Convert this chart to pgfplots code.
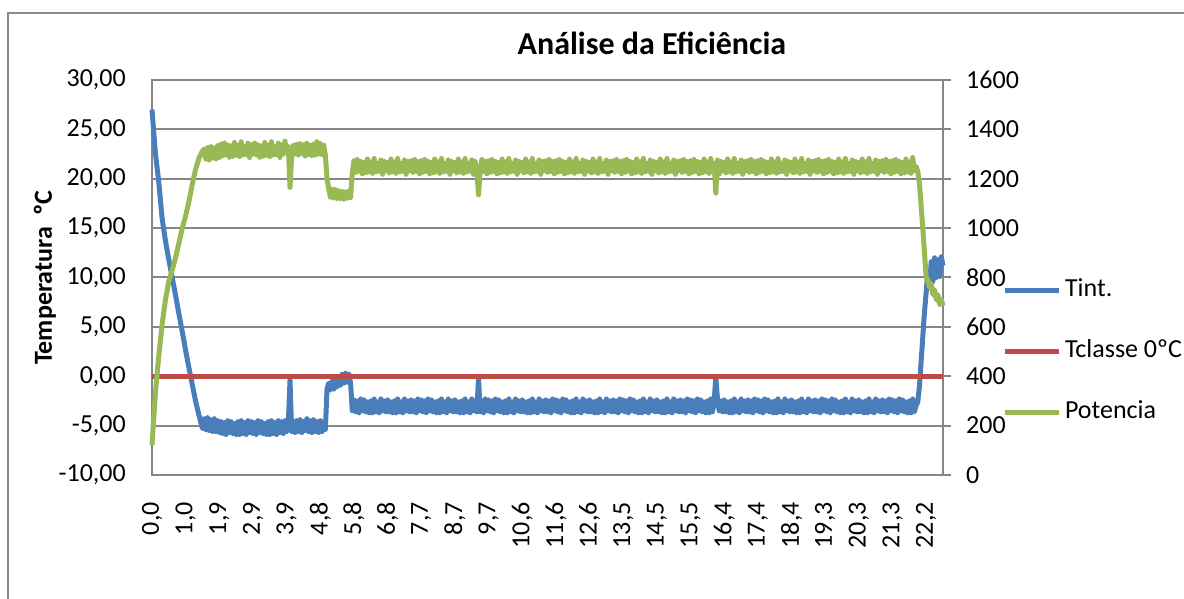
\documentclass[border=0pt]{standalone}
\usepackage{fontspec}
\setmainfont{Carlito}
\usepackage{pgfplots}
\usepackage{pgfplotstable}
\pgfplotsset{compat=1.18}
\definecolor{tblue}{HTML}{4A7EBB}
\definecolor{tred}{HTML}{BE4B48}
\definecolor{tgreen}{HTML}{98B954}
\definecolor{gridgray}{HTML}{868686}
\definecolor{framegray}{HTML}{8A8A8A}

\pgfplotstableread{
x T P
0.0 27.0 121
0.1 22.6 330
0.2 19.7 480
0.3 16.0 610
0.4 13.7 710
0.5 11.8 785
0.6 10.0 830
0.7 8.2 880
0.8 6.3 940
0.9 4.5 1000
1.0 2.6 1050
1.1 0.8 1110
1.2 -0.9 1180
1.3 -2.6 1240
1.4 -4.0 1285
1.5 -5.3 1312
1.55 -4.3 1320
1.60 -5.4 1280
1.65 -4.2 1326
1.70 -5.5 1276
1.75 -4.4 1330
1.80 -5.6 1284
1.85 -4.3 1324
1.90 -5.6 1280
1.95 -4.5 1334
2.00 -5.7 1286
2.05 -4.6 1340
2.10 -5.8 1293
2.15 -4.7 1345
2.20 -5.9 1297
2.25 -4.5 1337
2.30 -5.7 1287
2.35 -4.6 1333
2.40 -5.8 1291
2.45 -4.8 1347
2.50 -5.9 1295
2.55 -4.6 1336
2.60 -5.9 1290
2.65 -4.5 1350
2.70 -5.8 1296
2.75 -4.7 1330
2.80 -5.9 1298
2.85 -4.5 1344
2.90 -5.7 1286
2.95 -4.6 1338
3.00 -5.8 1300
3.05 -4.7 1345
3.10 -5.9 1297
3.15 -4.5 1337
3.20 -5.7 1287
3.25 -4.6 1333
3.30 -5.8 1291
3.35 -4.8 1347
3.40 -5.9 1295
3.45 -4.6 1336
3.50 -5.9 1290
3.55 -4.5 1350
3.60 -5.8 1296
3.65 -4.7 1330
3.70 -5.9 1298
3.75 -4.5 1344
3.80 -5.7 1286
3.85 -4.6 1338
3.90 -5.8 1300
3.95 -4.5 1352
4.00 -5.6 1305
4.05 -4.7 1330
4.10 -0.4 1165
4.15 -5.6 1298
4.20 -4.6 1335
4.25 -5.7 1300
4.30 -4.5 1340
4.35 -5.6 1296
4.40 -4.4 1342
4.45 -5.7 1302
4.50 -4.6 1338
4.55 -5.5 1292
4.60 -4.3 1344
4.65 -5.6 1298
4.70 -4.5 1336
4.75 -5.7 1294
4.80 -4.4 1340
4.85 -5.6 1296
4.90 -4.6 1350
4.95 -5.7 1300
5.00 -4.5 1342
5.05 -5.6 1298
5.10 -4.6 1336
5.15 -5.4 1296
5.20 -1.3 1200
5.25 -0.7 1160
5.30 -1.4 1125
5.35 -0.5 1158
5.40 -1.3 1122
5.45 -0.4 1156
5.50 -1.1 1120
5.55 -0.1 1152
5.60 -0.9 1118
5.65 0.2 1150
5.70 -0.7 1116
5.75 0.3 1148
5.80 -0.6 1120
5.85 0.2 1152
5.90 -0.7 1124
5.95 -3.5 1225
6.00 -2.4 1273
6.05 -3.6 1226
6.10 -2.5 1278
6.15 -3.7 1230
6.20 -2.3 1270
6.25 -3.5 1220
6.30 -2.4 1266
6.35 -3.6 1224
6.40 -2.6 1280
6.45 -3.7 1228
6.50 -2.5 1268
6.55 -3.7 1222
6.60 -2.3 1282
6.65 -3.6 1228
6.70 -2.6 1262
6.75 -3.7 1230
6.80 -2.3 1276
6.85 -3.5 1218
6.90 -2.5 1270
6.95 -3.6 1232
7.00 -2.4 1266
7.05 -3.6 1224
7.10 -2.6 1280
7.15 -3.7 1228
7.20 -2.5 1268
7.25 -3.7 1222
7.30 -2.3 1282
7.35 -3.6 1228
7.40 -2.6 1262
7.45 -3.7 1230
7.50 -2.3 1276
7.55 -3.5 1218
7.60 -2.5 1270
7.65 -3.6 1232
7.70 -2.4 1273
7.75 -3.6 1226
7.80 -2.5 1278
7.85 -3.7 1230
7.90 -2.3 1270
7.95 -3.5 1220
8.00 -2.4 1273
8.05 -3.6 1226
8.10 -2.5 1278
8.15 -3.7 1230
8.20 -2.3 1270
8.25 -3.5 1220
8.30 -2.4 1266
8.35 -3.6 1224
8.40 -2.6 1280
8.45 -3.7 1228
8.50 -2.5 1268
8.55 -3.7 1222
8.60 -2.3 1282
8.65 -3.6 1228
8.70 -2.6 1262
8.75 -3.7 1230
8.80 -2.3 1276
8.85 -3.5 1218
8.90 -2.5 1270
8.95 -3.6 1232
9.00 -2.4 1266
9.05 -3.6 1224
9.10 -2.6 1280
9.15 -3.7 1228
9.20 -2.5 1268
9.25 -3.7 1222
9.30 -2.3 1282
9.35 -3.6 1228
9.40 -2.6 1262
9.45 -3.7 1230
9.50 -2.3 1276
9.55 -3.5 1218
9.60 -2.5 1270
9.65 -3.6 1232
9.70 -0.2 1135
9.75 -3.6 1226
9.80 -2.5 1278
9.85 -3.7 1230
9.90 -2.3 1270
9.95 -3.5 1220
10.00 -2.4 1273
10.05 -3.6 1226
10.10 -2.5 1278
10.15 -3.7 1230
10.20 -2.3 1270
10.25 -3.5 1220
10.30 -2.4 1266
10.35 -3.6 1224
10.40 -2.6 1280
10.45 -3.7 1228
10.50 -2.5 1268
10.55 -3.7 1222
10.60 -2.3 1282
10.65 -3.6 1228
10.70 -2.6 1262
10.75 -3.7 1230
10.80 -2.3 1276
10.85 -3.5 1218
10.90 -2.5 1270
10.95 -3.6 1232
11.00 -2.4 1266
11.05 -3.6 1224
11.10 -2.6 1280
11.15 -3.7 1228
11.20 -2.5 1268
11.25 -3.7 1222
11.30 -2.3 1282
11.35 -3.6 1228
11.40 -2.6 1262
11.45 -3.7 1230
11.50 -2.3 1276
11.55 -3.5 1218
11.60 -2.5 1270
11.65 -3.6 1232
11.70 -2.4 1273
11.75 -3.6 1226
11.80 -2.5 1278
11.85 -3.7 1230
11.90 -2.3 1270
11.95 -3.5 1220
12.00 -2.4 1273
12.05 -3.6 1226
12.10 -2.5 1278
12.15 -3.7 1230
12.20 -2.3 1270
12.25 -3.5 1220
12.30 -2.4 1266
12.35 -3.6 1224
12.40 -2.6 1280
12.45 -3.7 1228
12.50 -2.5 1268
12.55 -3.7 1222
12.60 -2.3 1282
12.65 -3.6 1228
12.70 -2.6 1262
12.75 -3.7 1230
12.80 -2.3 1276
12.85 -3.5 1218
12.90 -2.5 1270
12.95 -3.6 1232
13.00 -2.4 1266
13.05 -3.6 1224
13.10 -2.6 1280
13.15 -3.7 1228
13.20 -2.5 1268
13.25 -3.7 1222
13.30 -2.3 1282
13.35 -3.6 1228
13.40 -2.6 1262
13.45 -3.7 1230
13.50 -2.3 1276
13.55 -3.5 1218
13.60 -2.5 1270
13.65 -3.6 1232
13.70 -2.4 1273
13.75 -3.6 1226
13.80 -2.5 1278
13.85 -3.7 1230
13.90 -2.3 1270
13.95 -3.5 1220
14.00 -2.4 1273
14.05 -3.6 1226
14.10 -2.5 1278
14.15 -3.7 1230
14.20 -2.3 1270
14.25 -3.5 1220
14.30 -2.4 1266
14.35 -3.6 1224
14.40 -2.6 1280
14.45 -3.7 1228
14.50 -2.5 1268
14.55 -3.7 1222
14.60 -2.3 1282
14.65 -3.6 1228
14.70 -2.6 1262
14.75 -3.7 1230
14.80 -2.3 1276
14.85 -3.5 1218
14.90 -2.5 1270
14.95 -3.6 1232
15.00 -2.4 1266
15.05 -3.6 1224
15.10 -2.6 1280
15.15 -3.7 1228
15.20 -2.5 1268
15.25 -3.7 1222
15.30 -2.3 1282
15.35 -3.6 1228
15.40 -2.6 1262
15.45 -3.7 1230
15.50 -2.3 1276
15.55 -3.5 1218
15.60 -2.5 1270
15.65 -3.6 1232
15.70 -2.4 1273
15.75 -3.6 1226
15.80 -2.5 1278
15.85 -3.7 1230
15.90 -2.3 1270
15.95 -3.5 1220
16.00 -2.4 1273
16.05 -3.6 1226
16.10 -2.5 1278
16.15 -3.7 1230
16.20 -2.3 1270
16.25 -3.5 1220
16.30 -2.4 1266
16.35 -3.6 1224
16.40 -2.6 1280
16.45 -3.7 1228
16.50 -2.5 1268
16.55 -3.7 1222
16.60 -2.3 1282
16.65 -3.6 1228
16.70 -2.6 1262
16.75 -0.1 1142
16.80 -2.3 1276
16.85 -3.5 1218
16.90 -2.5 1270
16.95 -3.6 1232
17.00 -2.4 1266
17.05 -3.6 1224
17.10 -2.6 1280
17.15 -3.7 1228
17.20 -2.5 1268
17.25 -3.7 1222
17.30 -2.3 1282
17.35 -3.6 1228
17.40 -2.6 1262
17.45 -3.7 1230
17.50 -2.3 1276
17.55 -3.5 1218
17.60 -2.5 1270
17.65 -3.6 1232
17.70 -2.4 1273
17.75 -3.6 1226
17.80 -2.5 1278
17.85 -3.7 1230
17.90 -2.3 1270
17.95 -3.5 1220
18.00 -2.4 1273
18.05 -3.6 1226
18.10 -2.5 1278
18.15 -3.7 1230
18.20 -2.3 1270
18.25 -3.5 1220
18.30 -2.4 1266
18.35 -3.6 1224
18.40 -2.6 1280
18.45 -3.7 1228
18.50 -2.5 1268
18.55 -3.7 1222
18.60 -2.3 1282
18.65 -3.6 1228
18.70 -2.6 1262
18.75 -3.7 1230
18.80 -2.3 1276
18.85 -3.5 1218
18.90 -2.5 1270
18.95 -3.6 1232
19.00 -2.4 1266
19.05 -3.6 1224
19.10 -2.6 1280
19.15 -3.7 1228
19.20 -2.5 1268
19.25 -3.7 1222
19.30 -2.3 1282
19.35 -3.6 1228
19.40 -2.6 1262
19.45 -3.7 1230
19.50 -2.3 1276
19.55 -3.5 1218
19.60 -2.5 1270
19.65 -3.6 1232
19.70 -2.4 1273
19.75 -3.6 1226
19.80 -2.5 1278
19.85 -3.7 1230
19.90 -2.3 1270
19.95 -3.5 1220
20.00 -2.4 1273
20.05 -3.6 1226
20.10 -2.5 1278
20.15 -3.7 1230
20.20 -2.3 1270
20.25 -3.5 1220
20.30 -2.4 1266
20.35 -3.6 1224
20.40 -2.6 1280
20.45 -3.7 1228
20.50 -2.5 1268
20.55 -3.7 1222
20.60 -2.3 1282
20.65 -3.6 1228
20.70 -2.6 1262
20.75 -3.7 1230
20.80 -2.3 1276
20.85 -3.5 1218
20.90 -2.5 1270
20.95 -3.6 1232
21.00 -2.4 1266
21.05 -3.6 1224
21.10 -2.6 1280
21.15 -3.7 1228
21.20 -2.5 1268
21.25 -3.7 1222
21.30 -2.3 1282
21.35 -3.6 1228
21.40 -2.6 1262
21.45 -3.7 1230
21.50 -2.3 1276
21.55 -3.5 1218
21.60 -2.5 1270
21.65 -3.6 1232
21.70 -2.4 1273
21.75 -3.6 1226
21.80 -2.5 1278
21.85 -3.7 1230
21.90 -2.3 1270
21.95 -3.5 1220
22.00 -2.4 1273
22.05 -3.6 1226
22.10 -2.5 1278
22.15 -3.7 1230
22.20 -2.3 1270
22.25 -3.5 1220
22.30 -2.4 1266
22.35 -3.6 1224
22.40 -2.6 1280
22.45 -3.7 1228
22.50 -2.5 1268
22.55 -3.7 1222
22.60 -2.3 1286
22.65 -3.6 1232
22.70 -3.0 1250
22.75 -2.6 1230
22.80 -1.0 1180
22.85 1.5 1090
22.90 4.0 1000
22.95 6.5 900
23.00 8.5 800
23.05 10.6 790
23.10 9.3 760
23.15 11.6 775
23.20 9.6 730
23.25 12.0 750
23.30 10.0 710
23.35 11.8 730
23.40 10.1 690
23.45 12.1 710
23.50 11.2 685
}\data

\begin{document}
\begin{tikzpicture}
\useasboundingbox (0pt,0pt) rectangle (1184pt,599pt);
\draw[color=framegray, line width=2pt] (8pt,-20pt) -- (8pt,586pt) -- (1200pt,586pt);
\begin{axis}[
  at={(152pt,124pt)}, anchor=south west,
  scale only axis, width=791pt, height=395pt,
  xmin=0, xmax=23.5, ymin=-10, ymax=30,
  axis line style={draw=gridgray, line width=2pt},
  ymajorgrids, major grid style={draw=gridgray, line width=2pt},
  major tick length=0pt,
  xtick pos=bottom, ytick pos=left,
  xtick={0,...,23},
  xticklabels={{0,0},{1,0},{1,9},{2,9},{3,9},{4,8},{5,8},{6,8},{7,7},{8,7},{9,7},{10,6},{11,6},{12,6},{13,5},{14,5},{15,5},{16,4},{17,4},{18,4},{19,3},{20,3},{21,3},{22,2}},
  ytick={-10,-5,...,30},
  tick label style={font=\fontsize{26}{30}\selectfont},
  yticklabel style={anchor=east, inner sep=0pt, /pgf/number format/.cd, fixed, fixed zerofill, precision=2, use comma, assume math mode=true},
  yticklabel shift=26pt,
  xticklabel style={rotate=90, anchor=east, inner sep=0pt},
  xticklabel shift=27pt,
  ylabel={Temperatura\ \ ºC},
  ylabel style={at={(axis description cs:-0.1353,0.5)}, anchor=center, font=\bfseries\fontsize{26}{30}\selectfont},
  title={Análise da Eficiência},
  title style={at={(axis description cs:0.632,1.078)}, anchor=center, font=\bfseries\fontsize{32}{36}\selectfont},
  clip=false,
]
\addplot[tblue, line width=5pt, line join=round, no markers] table[x=x,y=T]{\data};
\addplot[tred, line width=5pt, no markers] coordinates {(0,0) (23.5,0)};
\end{axis}
\begin{axis}[
  at={(152pt,124pt)}, anchor=south west,
  scale only axis, width=791pt, height=395pt,
  xmin=0, xmax=23.5, ymin=0, ymax=1600,
  axis line style={draw=none},
  xtick=\empty,
  ytick={0,200,...,1600}, ytick pos=right, yticklabel pos=right,
  tick align=outside, major tick length=8pt,
  tick style={draw=gridgray, line width=2pt},
  tick label style={font=\fontsize{26}{30}\selectfont},
  yticklabel style={anchor=west, inner sep=0pt, /pgf/number format/.cd, 1000 sep={}, assume math mode=true},
  yticklabel shift=15pt,
  clip=false,
  legend cell align=left,
  legend style={at={(axis description cs:1.0746,0.4975)}, anchor=north west, draw=none, fill=none, inner sep=0pt, outer sep=0pt, row sep=37pt, column sep=4pt, font=\fontsize{26}{30}\selectfont, nodes={inner sep=0pt, text height=18pt, text depth=6pt}},
  legend image code/.code={\draw[#1] (0pt,0pt) -- (54pt,0pt);},
]
\addlegendimage{tblue, line width=5pt}
\addlegendentry{Tint.}
\addlegendimage{tred, line width=5pt}
\addlegendentry{Tclasse 0ºC}
\addplot[tgreen, line width=5pt, line join=round, no markers] table[x=x,y=P]{\data};
\addlegendentry{Potencia}
\end{axis}
\end{tikzpicture}
\end{document}
